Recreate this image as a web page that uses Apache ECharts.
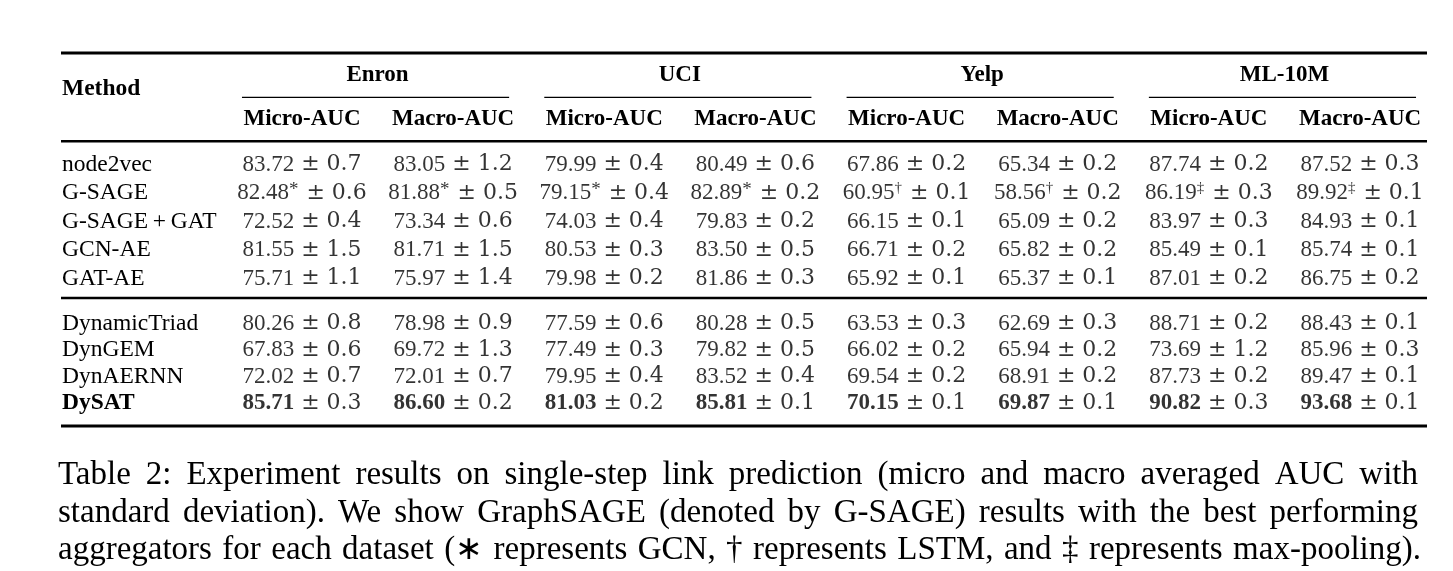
<!DOCTYPE html>
<html><head><meta charset="utf-8">
<script src="https://cdn.jsdelivr.net/npm/echarts@6/dist/echarts.min.js"></script>
<style>html,body{margin:0;padding:0;background:#fff}#c{width:1453px;height:571px}</style>
</head><body><div id="c"></div><script>
// ---------- data ----------
const datasets = ['Enron', 'UCI', 'Yelp', 'ML-10M'];
const metrics = ['Micro-AUC', 'Macro-AUC'];
const columns = ['Enron Micro', 'Enron Macro', 'UCI Micro', 'UCI Macro', 'Yelp Micro', 'Yelp Macro', 'ML Micro', 'ML Macro'];
const staticMethods = ['node2vec', 'G-SAGE', 'G-SAGE\u2009+\u2009GAT', 'GCN-AE', 'GAT-AE'];
const dynamicMethods = ['DynamicTriad', 'DynGEM', 'DynAERNN', 'DySAT'];
const staticMeans = [
  [83.72, 83.05, 79.99, 80.49, 67.86, 65.34, 87.74, 87.52],
  [82.48, 81.88, 79.15, 82.89, 60.95, 58.56, 86.19, 89.92],
  [72.52, 73.34, 74.03, 79.83, 66.15, 65.09, 83.97, 84.93],
  [81.55, 81.71, 80.53, 83.50, 66.71, 65.82, 85.49, 85.74],
  [75.71, 75.97, 79.98, 81.86, 65.92, 65.37, 87.01, 86.75]
];
const staticStds = [
  [0.7, 1.2, 0.4, 0.6, 0.2, 0.2, 0.2, 0.3],
  [0.6, 0.5, 0.4, 0.2, 0.1, 0.2, 0.3, 0.1],
  [0.4, 0.6, 0.4, 0.2, 0.1, 0.2, 0.3, 0.1],
  [1.5, 1.5, 0.3, 0.5, 0.2, 0.2, 0.1, 0.1],
  [1.1, 1.4, 0.2, 0.3, 0.1, 0.1, 0.2, 0.2]
];
const gsageMarks = ['*', '*', '*', '*', '\u2020', '\u2020', '\u2021', '\u2021'];
const dynamicMeans = [
  [80.26, 78.98, 77.59, 80.28, 63.53, 62.69, 88.71, 88.43],
  [67.83, 69.72, 77.49, 79.82, 66.02, 65.94, 73.69, 85.96],
  [72.02, 72.01, 79.95, 83.52, 69.54, 68.91, 87.73, 89.47],
  [85.71, 86.60, 81.03, 85.81, 70.15, 69.87, 90.82, 93.68]
];
const dynamicStds = [
  [0.8, 0.9, 0.6, 0.5, 0.3, 0.3, 0.2, 0.1],
  [0.6, 1.3, 0.3, 0.5, 0.2, 0.2, 1.2, 0.3],
  [0.7, 0.7, 0.4, 0.4, 0.2, 0.2, 0.2, 0.1],
  [0.3, 0.2, 0.2, 0.1, 0.1, 0.1, 0.3, 0.1]
];
const bestMethod = 'DySAT';
const captionLines = [
  'Table 2: Experiment results on single-step link prediction (micro and macro averaged AUC with',
  'standard deviation). We show GraphSAGE (denoted by G-SAGE) results with the best performing',
  'aggregators for each dataset (\u2217 represents GCN, \u2020 represents LSTM, and \u2021 represents max-pooling).'
];

// ---------- styles ----------
const SERIF = '"Liberation Serif", "Times New Roman", serif';
const MATH = '"DejaVu Serif", serif';
const FS = 23;
const rich = {
  v: { fontFamily: SERIF, fontSize: FS, color: '#000', lineHeight: 26 },
  b: { fontFamily: SERIF, fontSize: FS, fontWeight: 'bold', color: '#000', lineHeight: 26 },
  m: { fontFamily: SERIF, fontSize: 23.5, color: '#000', lineHeight: 26 },
  mb: { fontFamily: SERIF, fontSize: 23.5, fontWeight: 'bold', color: '#000', lineHeight: 26 },
  star: { fontFamily: SERIF, fontSize: 19, color: '#000', lineHeight: 19, verticalAlign: 'top', padding: [0, 1, 0, 0] },
  sup: { fontFamily: SERIF, fontSize: 15, color: '#000', lineHeight: 15, verticalAlign: 'top', padding: [0, 1, 0, 0] },
  pm: { fontFamily: MATH, fontSize: 22, color: '#000', lineHeight: 26 }
};

function cellText(mean, std, mark, bold) {
  let s = '{' + (bold ? 'b' : 'v') + '|' + mean.toFixed(2) + '}';
  if (mark) s += '{' + (mark === '*' ? 'star' : 'sup') + '|' + mark + '}';
  s += '{pm| \u00b1 ' + std.toFixed(1) + '}';
  return s;
}

function buildData(methods, means, stds, marksFor) {
  const out = [];
  methods.forEach((m, r) => {
    columns.forEach((c, k) => {
      out.push({
        value: [c, m],
        mean: means[r][k],
        std: stds[r][k],
        mark: marksFor(m, k),
        bold: m === bestMethod
      });
    });
  });
  return out;
}
const marksFor = (m, k) => (m === 'G-SAGE' ? gsageMarks[k] : '');

const GRID_LEFT = 226.4, GRID_RIGHT = 17.4;
const grids = [
  { left: GRID_LEFT, right: GRID_RIGHT, top: 150.5, height: 142.5 },
  { left: GRID_LEFT, right: GRID_RIGHT, top: 310.2, height: 106.3 }
];

function xAxisFor(gi, showLabels) {
  return {
    type: 'category', gridIndex: gi, data: columns, position: 'top',
    axisLine: { show: false }, axisTick: { show: false }, splitLine: { show: false },
    axisLabel: {
      show: showLabels, margin: 31.5, interval: 0, verticalAlign: 'middle',
      fontFamily: SERIF, fontSize: FS, fontWeight: 'bold', color: '#000',
      formatter: (v, i) => metrics[i % 2]
    }
  };
}
function yAxisFor(gi, methods) {
  return {
    type: 'category', gridIndex: gi, data: methods, inverse: true,
    axisLine: { show: false }, axisTick: { show: false }, splitLine: { show: false },
    axisLabel: {
      margin: GRID_LEFT - 62, align: 'left', verticalAlign: 'middle', interval: 0,
      formatter: v => (v === bestMethod ? '{mb|' + v + '}' : '{m|' + v + '}'),
      rich: rich
    }
  };
}
function seriesFor(gi, data) {
  return {
    type: 'scatter', xAxisIndex: gi, yAxisIndex: gi, symbolSize: 0, silent: true,
    data: data,
    label: {
      show: true, position: 'inside', align: 'center', verticalAlign: 'middle',
      formatter: p => cellText(p.data.mean, p.data.std, p.data.mark, p.data.bold),
      rich: rich
    },
    emphasis: { disabled: true }
  };
}

const chart = echarts.init(document.getElementById('c'), null, { renderer: 'canvas' });
chart.setOption({
  animation: false,
  backgroundColor: '#fff',
  grid: grids,
  xAxis: [xAxisFor(0, true), xAxisFor(1, false)],
  yAxis: [yAxisFor(0, staticMethods), yAxisFor(1, dynamicMethods)],
  series: [
    seriesFor(0, buildData(staticMethods, staticMeans, staticStds, marksFor)),
    seriesFor(1, buildData(dynamicMethods, dynamicMeans, dynamicStds, () => ''))
  ]
});

// ---------- headers, rules, caption ----------
const px = c => chart.convertToPixel({ xAxisIndex: 0 }, columns[c]);
const g = [];
const TABLE_L = 61, TABLE_R = 1427;
function hline(x1, x2, y, w) {
  g.push({ type: 'line', silent: true, shape: { x1: x1, y1: y, x2: x2, y2: y }, style: { stroke: '#000', lineWidth: w } });
}
hline(TABLE_L, TABLE_R, 53, 3.2);
hline(TABLE_L, TABLE_R, 141.3, 2.4);
hline(TABLE_L, TABLE_R, 298, 2.6);
hline(TABLE_L, TABLE_R, 426, 3.2);
g.push({ type: 'text', silent: true, x: 62, y: 88.6,
  style: { text: 'Method', fontFamily: SERIF, fontSize: 23.5, fontWeight: 'bold', fill: '#000', align: 'left', verticalAlign: 'middle' } });
datasets.forEach((d, i) => {
  const a = px(2 * i), b = px(2 * i + 1);
  g.push({ type: 'text', silent: true, x: (a + b) / 2, y: 75.5,
    style: { text: d, fontFamily: SERIF, fontSize: FS, fontWeight: 'bold', fill: '#000', align: 'center', verticalAlign: 'middle' } });
  hline(a - 60, b + 56, 97.4, 1.3);
});

const CAP_FS = 33;
function textWidth(str) {
  const t = new echarts.graphic.Text({ style: { text: str, fontFamily: SERIF, fontSize: CAP_FS } });
  return t.getBoundingRect().width;
}
const capY = [475.4, 512.9, 550.4];
const capRight = [1418, 1418, 1421];
const capLeft = 58;
captionLines.forEach((line, li) => {
  const words = line.split(' ');
  const widths = words.map(textWidth);
  const total = widths.reduce((s, w) => s + w, 0);
  const gap = (capRight[li] - capLeft - total) / (words.length - 1);
  let x = capLeft;
  words.forEach((w, i) => {
    g.push({ type: 'text', silent: true, x: x, y: capY[li],
      style: { text: w, fontFamily: SERIF, fontSize: CAP_FS, fill: '#000', align: 'left', verticalAlign: 'middle' } });
    x += widths[i] + gap;
  });
});
chart.setOption({ graphic: { elements: g } });
</script></body></html>
